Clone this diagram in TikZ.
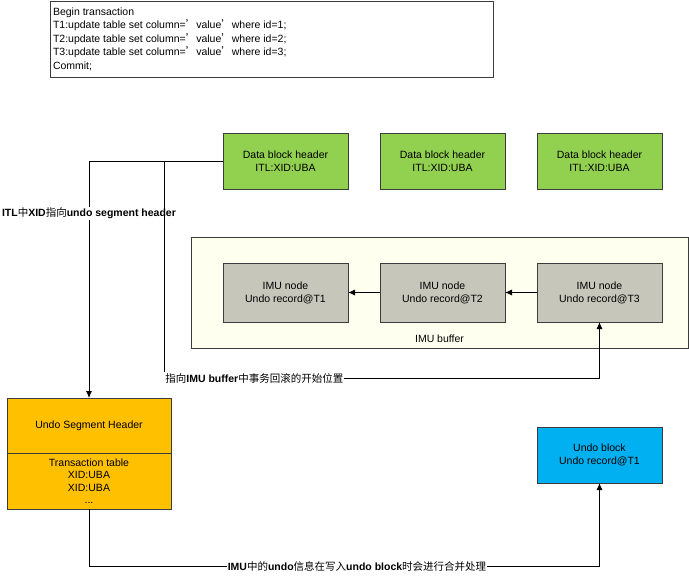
\documentclass[tikz,border=0pt]{standalone}
\usepackage{fontspec}
\setmainfont{Liberation Sans}
\newfontfamily\cjk{Noto Sans CJK SC}
\newcommand{\zh}[1]{{\cjk #1}}
\usetikzlibrary{positioning,arrows.meta}
\definecolor{dbgreen}{RGB}{146,208,80}
\definecolor{imugray}{RGB}{198,198,186}
\definecolor{bufcream}{RGB}{255,255,240}
\definecolor{ushgold}{RGB}{255,192,0}
\definecolor{ublue}{RGB}{0,176,240}
\definecolor{edge}{RGB}{60,60,60}

\begin{document}
\begin{tikzpicture}[x=1pt,y=-1pt,
  every node/.style={font=\fontsize{10.5}{13}\selectfont},
  box/.style={draw=edge,line width=0.8pt,minimum width=125pt,minimum height=56pt,
    align=center,inner sep=2pt,outer sep=0pt},
  dbh/.style={box,fill=dbgreen},
  imu/.style={box,fill=imugray,minimum height=59pt},
  ushbox/.style={box,fill=ushgold,minimum width=164pt,minimum height=55pt,
    font=\fontsize{10.5}{12.5}\selectfont},
  ublk/.style={box,fill=ublue},
  txbox/.style={draw=edge,line width=0.8pt,inner xsep=3pt,inner ysep=5pt,outer sep=0pt,
    font=\fontsize{10.5}{13.5}\selectfont},
  bufbox/.style={draw=edge,line width=0.8pt,fill=bufcream,minimum width=497pt,
    minimum height=111pt,outer sep=0pt},
  lbl/.style={fill=white,inner sep=1pt},
  conn/.style={draw=black,line width=0.8pt},
  arr/.style={conn,-{Latex[length=7pt,width=6pt]}}]
\useasboundingbox[fill=white] (0,0) rectangle (689,576);

% transaction text
\node[txbox,anchor=north west] (txn) at (50,1) {\parbox[t][66pt][t]{437pt}{\raggedright
  \strut Begin transaction\\
  T1:update table set column=\zh{’}value\zh{’}where id=1;\\
  T2:update table set column=\zh{’}value\zh{’}where id=2;\\
  T3:update table set column=\zh{’}value\zh{’}where id=3;\\
  Commit;}};

% data block headers
\node[dbh] (dbh1) at (285.5,161) {Data block header\\ITL:XID:UBA};
\node[dbh] (dbh2) at (442.5,161) {Data block header\\ITL:XID:UBA};
\node[dbh] (dbh3) at (599.5,161) {Data block header\\ITL:XID:UBA};

% IMU buffer
\node[bufbox] (buf) at (439.5,292.5) {};
\node[above=2pt of buf.south] (buflbl) {IMU buffer};
\node[imu] (imu1) at (285.5,292.5) {IMU node\\Undo record@T1};
\node[imu] (imu2) at (442.5,292.5) {IMU node\\Undo record@T2};
\node[imu] (imu3) at (599.5,292.5) {IMU node\\Undo record@T3};

% undo segment header
\node[ushbox] (ush) at (89,425.5) {Undo Segment Header};
\node[ushbox,minimum height=56pt,below=0pt of ush] (ushtab) {Transaction table\\XID:UBA\\XID:UBA\\...};

% undo block
\node[ublk] (ublk) at (599.5,455) {Undo block\\Undo record@T1};

\coordinate (fork) at (164,161);
\coordinate (bend) at (164,378);
\coordinate (botleft) at (89,566);

% connectors
\draw[arr] (dbh1.west) -| node[lbl,pos=0.61] {\textbf{ITL}\zh{中}\textbf{XID}\zh{指向}\textbf{undo segment header}} (ush.north);
\draw[arr] (fork) -- (bend) -| node[lbl,anchor=west,pos=0] {\zh{指向}\textbf{IMU buffer}\zh{中事务回滚的开始位置}} (imu3.south);
\draw[arr] (imu2.west) -- (imu1.east);
\draw[arr] (imu3.west) -- (imu2.east);
\draw[arr] (ushtab.south) -- (botleft) -| node[lbl,pos=0.2625] {\textbf{IMU}\zh{中的}\textbf{undo}\zh{信息在写入}\textbf{undo block}\zh{时会进行合并处理}} (ublk.south);
\end{tikzpicture}
\end{document}
